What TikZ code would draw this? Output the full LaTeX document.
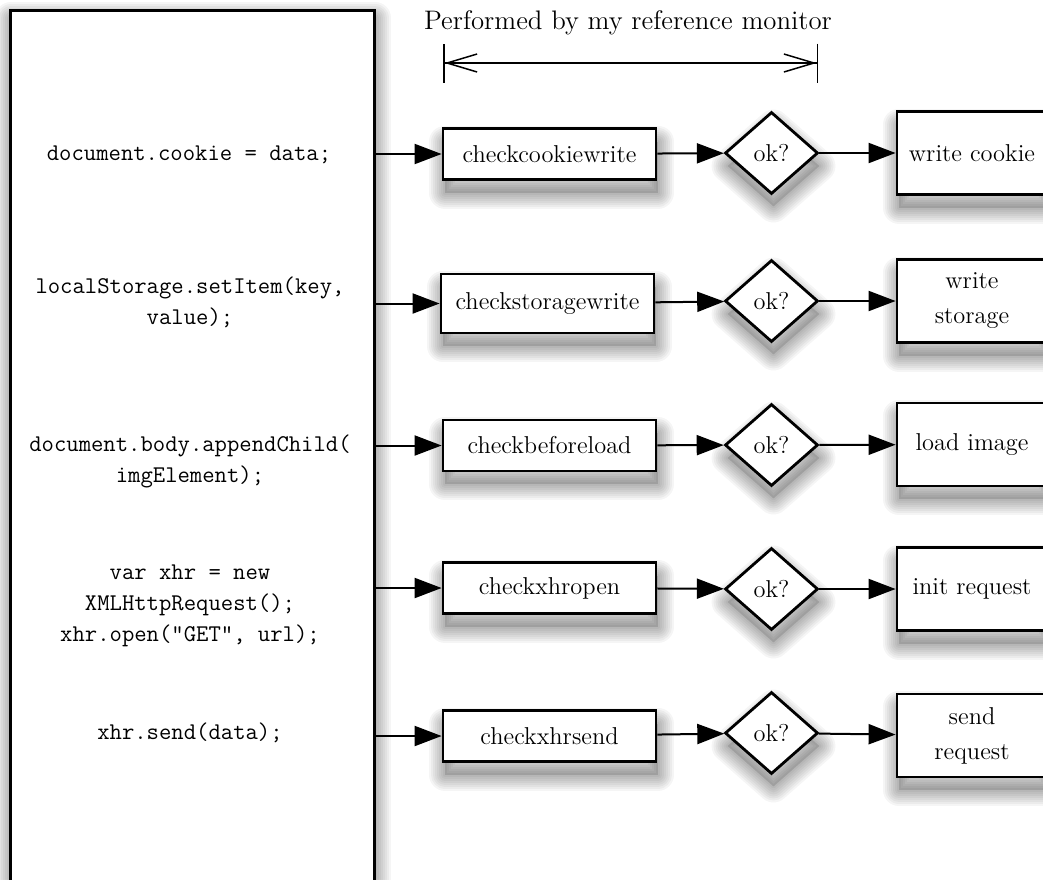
\documentclass[tikz,border=0pt]{standalone}
\usetikzlibrary{shapes.geometric,arrows.meta}
\tikzset{
  sl/.style n args={3}{preaction={fill=none,draw=black,line width=#3,opacity=0.04,line join=round,transform canvas={shift={(#1,#2)}}}},
  softshadow/.style 2 args={
    preaction={draw=none,fill=black,opacity=0.12,transform canvas={shift={(#1,#2)}}},
    sl={#1}{#2}{2pt},sl={#1}{#2}{4pt},sl={#1}{#2}{6pt},sl={#1}{#2}{8pt},sl={#1}{#2}{10pt},
    sl={#1}{#2}{12pt},sl={#1}{#2}{14pt},sl={#1}{#2}{16pt}
  }
}
\begin{document}
\begin{tikzpicture}[x=0.5pt,y=-0.5pt,
  every node/.style={font=\fontsize{12.2pt}{15.5pt}\selectfont},
  dropshadow/.style={softshadow={1pt}{-6.5pt}},
  apibox/.style={draw,line width=1.5pt,fill=white,minimum width=182pt,minimum height=445pt,inner sep=0pt,softshadow={0.5pt}{-4pt}},
  checkbox/.style={draw,line width=1.4pt,fill=white,minimum width=106.5pt,minimum height=25.5pt,inner sep=0pt,dropshadow},
  okdia/.style={diamond,draw,line width=1.4pt,fill=white,minimum width=46.5pt,minimum height=41pt,inner sep=0pt,dropshadow},
  actbox/.style={draw,line width=1.4pt,fill=white,minimum width=75pt,minimum height=41.5pt,align=center,inner sep=0pt,dropshadow,font=\fontsize{12.2pt}{17.5pt}\selectfont},
  flow/.style={line width=1pt,-{Triangle[length=13.5pt,width=10pt]}},
  code/.style={font=\fontsize{12pt}{15.5pt}\selectfont\ttfamily,align=center},
  span/.style={line width=0.75pt,{Bar[width=19.5pt]Straight Barb[length=15pt,width=9pt]}-{Straight Barb[length=15pt,width=9pt]Bar[width=19.5pt]}}
]
\useasboundingbox (0,0) rectangle (1043,879);
\fill[white] (0,0) rectangle (1043,879);
\clip (0,0) rectangle (1043,879);

% API box
\node[apibox] (api) at (192,455) {};
\node[code] (c1) at (189,155) {document.cookie = data;};
\node[code] (c2) at (190,302.5) {localStorage.setItem(key,\\value);};
\node[code] (c3) at (190,461.5) {document.body.appendChild(\\imgElement);};
\node[code] (c4) at (190,606) {var xhr = new\\XMLHttpRequest();\\xhr.open("GET", url);};
\node[code] (c5) at (190,733) {xhr.send(data);};

% title and span
\node[font=\fontsize{13.4pt}{16pt}\selectfont] (title) at (628,23) {Performed by my reference monitor};
\coordinate (spanl) at (443,63);
\coordinate (spanr) at (818,63);
\draw[span] (spanl) -- (spanr);

% check boxes
\node[checkbox] (k1) at (549.5,154) {checkcookiewrite};
\node[checkbox,minimum height=29.5pt] (k2) at (547.5,303.5) {checkstoragewrite};
\node[checkbox] (k3) at (549.5,445.5) {checkbeforeload};
\node[checkbox] (k4) at (549.5,588) {checkxhropen};
\node[checkbox] (k5) at (549.5,736) {checkxhrsend};

% diamonds
\node[okdia] (d1) at (771.5,153) {ok?};
\node[okdia] (d2) at (771.5,301) {ok?};
\node[okdia] (d3) at (771.5,445) {ok?};
\node[okdia] (d4) at (771.5,589) {ok?};
\node[okdia] (d5) at (771.5,733) {ok?};

% action boxes
\node[actbox] (r1) at (972,153) {write cookie};
\node[actbox] (r2) at (972,301) {write\\storage};
\node[actbox] (r3) at (972,444.5) {load image};
\node[actbox] (r4) at (972,589) {init request};
\node[actbox] (r5) at (972,735.5) {send\\request};

% connectors
\foreach \i in {1,...,5}{
  \draw[flow] (k\i.west -| api.east) -- (k\i.west);
  \draw[flow] (k\i) -- (d\i);
  \draw[flow] (d\i) -- (r\i);
}
\end{tikzpicture}
\end{document}
